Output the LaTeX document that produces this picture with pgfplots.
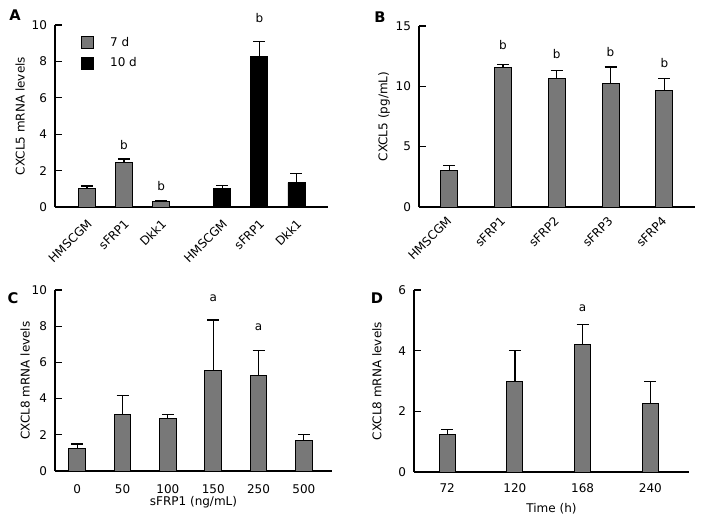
\documentclass[border=0pt]{standalone}
\usepackage{pgfplots}
\pgfplotsset{compat=1.18}
\usepackage{fontspec}
\setmainfont{DejaVu Sans}
\definecolor{bargray}{RGB}{120,120,120}
\newcommand{\lblfont}{\fontsize{9}{10.5}\selectfont}
\pgfplotsset{
  panel/.style={
    scale only axis,
    anchor=south west,
    axis x line=bottom, axis y line=left,
    axis line style={-, line width=0.9pt},
    tick align=inside,
    major tick length=5pt,
    xtick style={draw=none},
    ytick style={line width=0.9pt, black},
    ymin=0,
    ybar, bar shift=0pt,
    clip=false,
    font=\lblfont,
    tick label style={font=\lblfont},
    /pgf/number format/assume math mode=true,
    yticklabel style={xshift=-2.5pt},
    label style={font=\lblfont},
    ylabel style={anchor=center},
    xlabel style={anchor=center},
    error bars/y dir=plus,
    error bars/y explicit,
    error bars/error mark=|,
    error bars/error mark options={mark size=4.5pt, line width=0.9pt, black},
    error bars/error bar style={line width=0.9pt, black},
  },
  graybar/.style={draw=black, fill=bargray, line width=0.7pt},
  blackbar/.style={draw=black, fill=black, line width=0.7pt},
}
\begin{document}
\begin{tikzpicture}
\path[use as bounding box] (0,0) rectangle (528pt,391.5pt);
% ---------------- A ----------------
\begin{axis}[panel,
  at={(41.25pt,236.25pt)}, width=204.75pt, height=136.5pt,
  xmin=0.14, xmax=7.5, ymax=10,
  ytick={0,2,4,6,8,10},
  xtick={1,2,3,4.65,5.65,6.65},
  xticklabels={HMSCGM,sFRP1,Dkk1,HMSCGM,sFRP1,Dkk1},
  xticklabel style={xshift=4.5pt, yshift=-3.5pt, rotate=45, anchor=east},
  bar width=12.75pt,
  ylabel={CXCL5 mRNA levels},
  ylabel style={at={(axis description cs:-0.128,0.5)}},
  legend style={draw=none, fill=none, at={(axis description cs:0.095,0.95)}, anchor=north west, inner sep=0pt, row sep=3pt, font=\lblfont, /tikz/every odd column/.append style={column sep=10pt}},
  legend cell align=left,
  legend image code/.code={\draw[#1] (0pt,-4.5pt) rectangle (9pt,4.5pt);},
]
\addplot[graybar] coordinates {(1,1.0) +- (0,0.15) (2,2.44) +- (0,0.2) (3,0.3) +- (0,0.05)};
\addplot[blackbar] coordinates {(4.65,1.0) +- (0,0.16) (5.65,8.29) +- (0,0.8) (6.65,1.34) +- (0,0.48)};
\legend{7 d, 10 d}
\node at (axis cs:2,3.4) {b};
\node at (axis cs:3,1.15) {b};
\node at (axis cs:5.65,10.4) {b};
\end{axis}
% ---------------- B ----------------
\begin{axis}[panel,
  at={(314.25pt,236.25pt)}, width=207pt, height=135.75pt,
  xmin=-0.56, xmax=4.57, ymax=15,
  ytick={0,5,10,15},
  xtick={0,1,2,3,4},
  xticklabels={HMSCGM,sFRP1,sFRP2,sFRP3,sFRP4},
  xticklabel style={xshift=2.5pt, yshift=-1.5pt, rotate=45, anchor=east},
  bar width=12.75pt,
  ylabel={CXCL5 (pg/mL)},
  ylabel style={at={(axis description cs:-0.127,0.5)}},
]
\addplot[graybar] coordinates {(0,3.0) +- (0,0.47) (1,11.56) +- (0,0.24) (2,10.65) +- (0,0.63) (3,10.24) +- (0,1.37) (4,9.69) +- (0,0.93)};
\node at (axis cs:1,13.46) {b};
\node at (axis cs:2,12.66) {b};
\node at (axis cs:3,12.85) {b};
\node at (axis cs:4,11.94) {b};
\end{axis}
% ---------------- C ----------------
\begin{axis}[panel,
  at={(41.25pt,38.25pt)}, width=207.75pt, height=135.75pt,
  xmin=-0.49, xmax=5.62, ymax=10,
  ytick={0,2,4,6,8,10},
  xtick={0,1,2,3,4,5},
  xticklabels={0,50,100,150,250,500},
  xticklabel style={yshift=-1.5pt},
  bar width=12.5pt,
  ylabel={CXCL8 mRNA levels},
  ylabel style={at={(axis description cs:-0.108,0.5)}},
  xlabel={sFRP1 (ng/mL)},
  xlabel style={at={(axis description cs:0.5,-0.175)}},
]
\addplot[graybar] coordinates {(0,1.25) +- (0,0.24) (1,3.14) +- (0,1.05) (2,2.92) +- (0,0.22) (3,5.54) +- (0,2.8) (4,5.26) +- (0,1.38) (5,1.70) +- (0,0.33)};
\node at (axis cs:3,9.54) {a};
\node at (axis cs:4,7.93) {a};
\end{axis}
% ---------------- D ----------------
\begin{axis}[panel,
  at={(310.5pt,37.5pt)}, width=206.25pt, height=136.5pt,
  xmin=-0.49, xmax=3.57, ymax=6,
  ytick={0,2,4,6},
  xtick={0,1,2,3},
  xticklabels={72,120,168,240},
  xticklabel style={yshift=0pt},
  bar width=12pt,
  ylabel={CXCL8 mRNA levels},
  ylabel style={at={(axis description cs:-0.135,0.5)}},
  xlabel={Time (h)},
  xlabel style={at={(axis description cs:0.5,-0.203)}},
]
\addplot[graybar] coordinates {(0,1.235) +- (0,0.165) (1,3.0) +- (0,1.01) (2,4.21) +- (0,0.665) (3,2.26) +- (0,0.72)};
\node at (axis cs:2,5.4) {a};
\end{axis}
% panel letters
\node[font=\fontsize{11}{13}\bfseries\selectfont] at (11.25pt,380.25pt) {A};
\node[font=\fontsize{11}{13}\bfseries\selectfont] at (285pt,378.75pt) {B};
\node[font=\fontsize{11}{13}\bfseries\selectfont] at (9.75pt,168pt) {C};
\node[font=\fontsize{11}{13}\bfseries\selectfont] at (282.75pt,168pt) {D};
\end{tikzpicture}
\end{document}
